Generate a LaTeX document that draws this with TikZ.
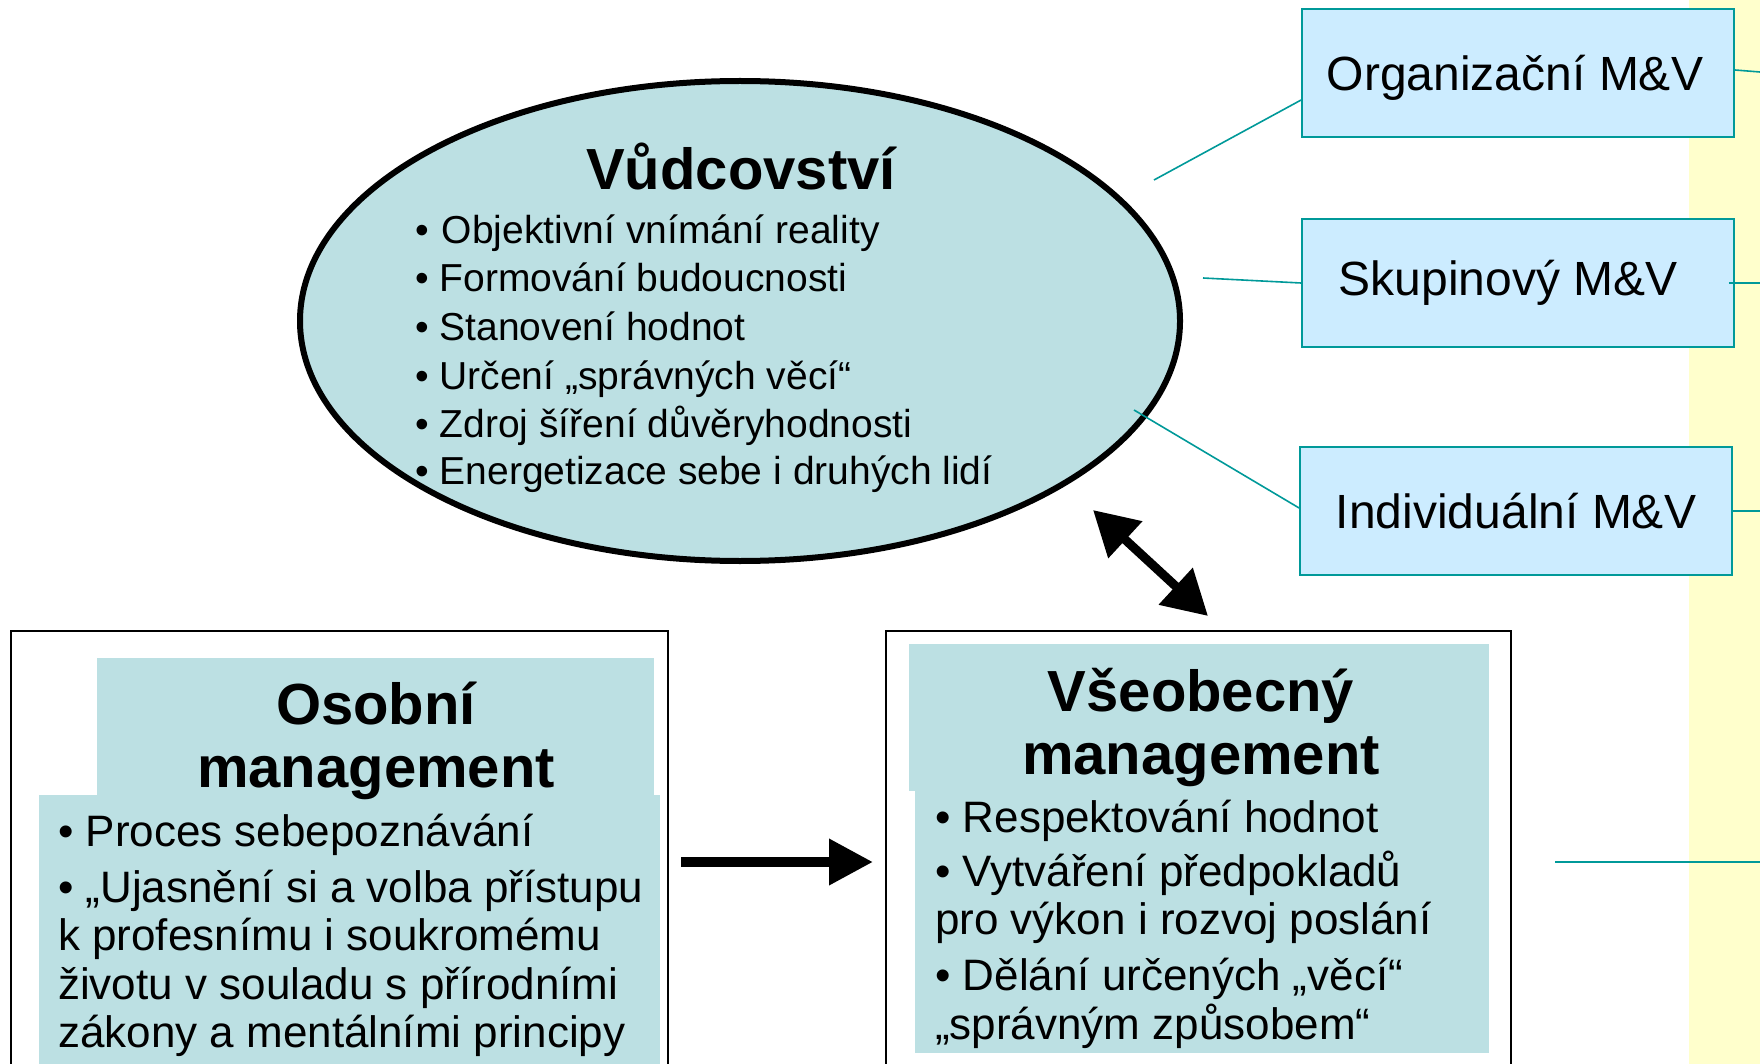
\documentclass[tikz,border=0pt]{standalone}
\usepackage{fontspec}
\setmainfont{Liberation Sans}
\usetikzlibrary{shapes.geometric,arrows.meta}
\definecolor{yel}{HTML}{FFFFCC}
\definecolor{tealfill}{HTML}{BCE0E3}
\definecolor{boxfill}{HTML}{CCECFF}
\definecolor{tealline}{HTML}{009999}
\begin{document}
\begin{tikzpicture}[x=1pt,y=-1pt,
  mvbox/.style={draw=tealline,line width=1.8pt,fill=boxfill,minimum width=432pt,minimum height=128pt,inner sep=0pt},
  mvtxt/.style={inner sep=0pt,font=\fontsize{48}{58}\selectfont},
  conn/.style={draw=tealline,line width=1.6pt},
  outerbox/.style={draw=black,line width=1.6pt,fill=white},
  tealrect/.style={fill=tealfill},
  txt/.style={anchor=base west,inner sep=0pt},
  ttl/.style={anchor=base,inner sep=0pt,font=\fontsize{58}{66}\bfseries\selectfont},
  etxt/.style={txt,font=\fontsize{39}{48}\selectfont},
  btxt/.style={txt,font=\fontsize{44}{50}\selectfont},
  bigarrow/.style={line width=10pt,-{Triangle[length=44pt,width=44pt]}},
  dblarrow/.style={line width=9pt,{Triangle[length=44pt,width=48pt]}-{Triangle[length=44pt,width=48pt]}}
]
\useasboundingbox (0,0) rectangle (1760,1064);
\fill[yel] (1689,0) rectangle (1760,1064);

% right-hand boxes
\node[mvbox] (org) at (1518,73) {};
\node[mvbox] (sku) at (1518,283) {};
\node[mvbox] (ind) at (1516,511) {};
\node[mvtxt] (orgt) at (1515,78) {Organizační M\&V};
\node[mvtxt] (skut) at (1508,283) {Skupinový M\&V};
\node[mvtxt] (indt) at (1516,511) {Individuální M\&V};

% ellipse
\node[ellipse,draw=black,line width=6pt,fill=tealfill,minimum width=880pt,minimum height=480pt] (vud) at (740,321) {};
\node[ttl] (vudt) at (741,190) {Vůdcovství};
\node[etxt] (v1) at (415,244) {•\hspace{13pt}Objektivní vnímání reality};
\node[etxt] (v2) at (415,292) {• Formování budoucnosti};
\node[etxt] (v3) at (415,340) {• Stanovení hodnot};
\node[etxt] (v4) at (415,389) {• Určení „správných věcí“};
\node[etxt] (v5) at (415,437) {• Zdroj šíření důvěryhodnosti};
\node[etxt] (v6) at (415,484) {• Energetizace sebe i druhých lidí};

% connector end points
\coordinate (c1) at (1154,180);
\coordinate (c2) at (1203,278);
\coordinate (c3) at (1134,410);
\coordinate (r1) at (1760,72);
\coordinate (r2) at (1760,283);
\coordinate (r3) at (1760,511);
\coordinate (r4a) at (1555,862);
\coordinate (r4b) at (1760,862);
\draw[conn] (c1) -- (org.west |- 0,100);
\draw[conn] (c2) -- (sku.west);
\draw[conn] (c3) -- (ind.west |- 0,508);
\draw[conn] (org.east |- 0,70) -- (r1);
\draw[conn] ([xshift=-6pt]sku.east) -- (r2);
\draw[conn] (ind.east) -- (r3);
\draw[conn] (r4a) -- (r4b);

% left box
\node[outerbox,minimum width=657pt,minimum height=450pt,inner sep=0pt] (lbox) at (339.5,856) {};
\fill[tealrect] (97,658) rectangle (654,795);
\fill[tealrect] (39,795) rectangle (660,1064);
\node[ttl] (lt1) at (376,724) {Osobní};
\node[ttl] (lt2) at (376,787) {management};
\node[btxt] (l1) at (58,846) {• Proces sebepoznávání};
\node[btxt] (l2) at (58,902) {• „Ujasnění si a volba přístupu};
\node[btxt] (l3) at (58,950) {k profesnímu i soukromému};
\node[btxt] (l4) at (58,999) {životu v souladu s přírodními};
\node[btxt] (l5) at (58,1047) {zákony a mentálními principy};

% right box
\node[outerbox,minimum width=625pt,minimum height=450pt,inner sep=0pt] (rbox) at (1198.5,856) {};
\fill[tealrect] (909,644) rectangle (1489,791);
\fill[tealrect] (915,791) rectangle (1489,1053);
\node[ttl] (rt1) at (1201,711) {Všeobecný};
\node[ttl] (rt2) at (1201,774) {management};
\node[btxt] (m1) at (935,832) {• Respektování hodnot};
\node[btxt] (m2) at (935,886) {• Vytváření předpokladů};
\node[btxt] (m3) at (935,934) {pro výkon i rozvoj poslání};
\node[btxt] (m4) at (935,990) {• Dělání určených „věcí“};
\node[btxt] (m5) at (935,1039) {„správným způsobem“};

% arrows
\coordinate (a1) at (681,862);
\coordinate (a2) at (873,862);
\draw[bigarrow] (a1) -- (a2);
\coordinate (d1) at (1093,510);
\coordinate (d2) at (1208,616);
\draw[dblarrow] (d1) -- (d2);
\end{tikzpicture}
\end{document}
